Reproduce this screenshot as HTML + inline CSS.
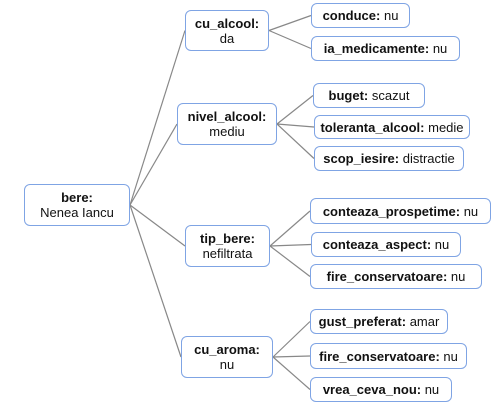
<!DOCTYPE html>
<html><head><meta charset="utf-8"><style>
body{margin:0;width:499px;height:408px;background:#fff;position:relative;overflow:hidden;font-family:"Liberation Sans",Arial,sans-serif;font-size:13px;color:#111}
.n{position:absolute;box-sizing:border-box;border:1.3px solid #7fa4e4;border-radius:6px;background:#fff;display:flex;flex-direction:column;align-items:center;justify-content:center;text-align:center;line-height:15px;white-space:nowrap}
b{font-weight:bold}
svg{position:absolute;left:0;top:0}
</style></head><body>
<svg width="499" height="408">
<g stroke="#888" stroke-width="1.2" fill="none" id="edges"></g>
</svg>
<div id="nodes"></div>
<script>
const nodes=[
 ["root","bere:","Nenea Iancu",24,184,130,226,1],
 ["cu_alcool","cu_alcool:","da",185,10,269,51,1],
 ["nivel_alcool","nivel_alcool:","mediu",177,103,277,145,1],
 ["tip_bere","tip_bere:","nefiltrata",185,225,270,267,1],
 ["cu_aroma","cu_aroma:","nu",181,336,273,378,1],
 ["conduce","conduce:","nu",311,3,410,28,0],
 ["ia_medicamente","ia_medicamente:","nu",311,36,460,61,0],
 ["buget","buget:","scazut",313,83,425,108,0],
 ["toleranta_alcool","toleranta_alcool:","medie",314,115,470,139,0],
 ["scop_iesire","scop_iesire:","distractie",314,146,464,171,0],
 ["conteaza_prospetime","conteaza_prospetime:","nu",310,198,491,224,0],
 ["conteaza_aspect","conteaza_aspect:","nu",311,232,461,257,0],
 ["fire_conservatoare","fire_conservatoare:","nu",310,264,482,289,0],
 ["gust_preferat","gust_preferat:","amar",310,309,448,334,0],
 ["fire_conservatoare2","fire_conservatoare:","nu",310,343,467,369,0],
 ["vrea_ceva_nou","vrea_ceva_nou:","nu",310,377,452,402,0]
];
const links=[[0,1],[0,2],[0,3],[0,4],[1,5],[1,6],[2,7],[2,8],[2,9],[3,10],[3,11],[3,12],[4,13],[4,14],[4,15]];
const cont=document.getElementById('nodes');
nodes.forEach(n=>{
 const d=document.createElement('div');
 d.className='n';
 
 
 d.style.left=n[3]+'px';d.style.top=n[4]+'px';d.style.width=(n[5]-n[3])+'px';d.style.height=(n[6]-n[4])+'px';
 if(n[7]){d.innerHTML='<div><b>'+n[1]+'</b></div><div>'+n[2]+'</div>';}
 else{d.innerHTML='<div><b>'+n[1]+'</b> '+n[2]+'</div>';}
 cont.appendChild(d);
});
const g=document.getElementById('edges');
links.forEach(([a,b])=>{
 const p=nodes[a],c=nodes[b];
 const l=document.createElementNS('http://www.w3.org/2000/svg','line');
 
 
 l.setAttribute('x1',p[5]);l.setAttribute('y1',(p[4]+p[6])/2);
 l.setAttribute('x2',c[3]);l.setAttribute('y2',(c[4]+c[6])/2);
 g.appendChild(l);
});
</script>
</body></html>
